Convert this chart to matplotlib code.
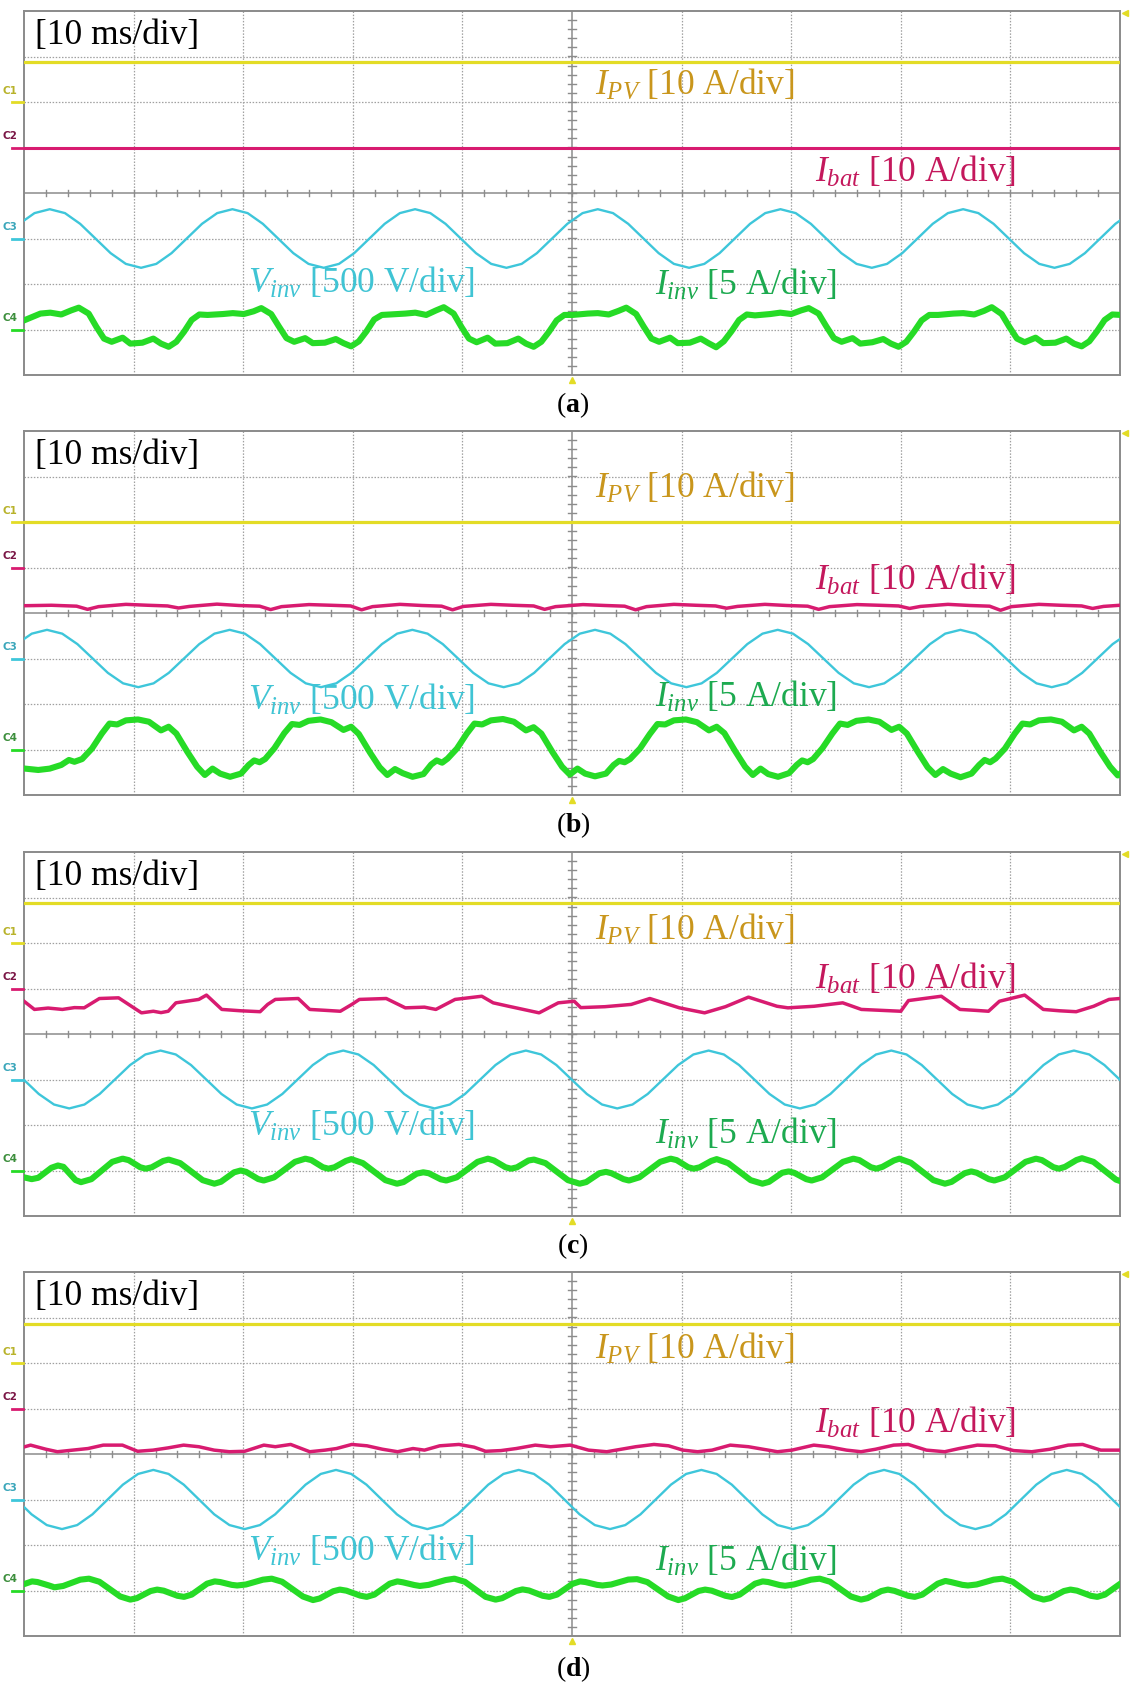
import matplotlib.pyplot as plt
import numpy as np

plt.rcParams['font.family'] = 'Liberation Serif'
plt.rcParams['mathtext.fontset'] = 'custom'
plt.rcParams['mathtext.rm'] = 'Liberation Serif'
plt.rcParams['mathtext.it'] = 'Liberation Serif:italic'
plt.rcParams['mathtext.bf'] = 'Liberation Serif:bold'

# scope: 10 ms/div, 10 x 8 divisions; channel zero level (div) and scale per div
CH_ZERO = {'pv': 2.0, 'bat': 1.0, 'vinv': -1.0, 'iinv': -3.0}
CH_SCALE = {'pv': 10.0, 'bat': 10.0, 'vinv': 500.0, 'iinv': 5.0}

panel_names = ['a', 'b', 'c', 'd']

# I_PV (A), flat in every capture
ipv_level = [8.9, 0.0, 8.7, 8.6]

# V_inv (V), read every 1.389 ms starting at vinv_t0 (ms)
VINV_STEP = 1.389
vinv_t0 = [-0.43, -0.68, -1.43, -2.09]
vinv_a = [161, 279, 322, 279, 161, 0, -161, -279, -322, -279, -161, 0,
          161, 279, 322, 279, 161, 0, -161, -279, -322, -279, -161, 0,
          161, 279, 322, 279, 161, 0, -161, -279, -322, -279, -161, 0,
          161, 279, 322, 279, 161, 0, -161, -279, -322, -279, -161, 0,
          161, 279, 322, 279, 161, 0, -161, -279, -322, -279, -161, 0,
          161, 279, 322, 279, 161, 0, -161, -279, -322, -279, -161, 0,
          161, 279]
vinv_b = [158, 273, 315, 273, 158, 0, -158, -273, -315, -273, -158, 0,
          158, 273, 315, 273, 158, 0, -158, -273, -315, -273, -158, 0,
          158, 273, 315, 273, 158, 0, -158, -273, -315, -273, -158, 0,
          158, 273, 315, 273, 158, 0, -158, -273, -315, -273, -158, 0,
          158, 273, 315, 273, 158, 0, -158, -273, -315, -273, -158, 0,
          158, 273, 315, 273, 158, 0, -158, -273, -315, -273, -158, 0,
          158, 273, 315]
vinv_c = [159, 0, -159, -275, -318, -275, -159, 0, 159, 275, 318, 275,
          159, 0, -159, -275, -318, -275, -159, 0, 159, 275, 318, 275,
          159, 0, -159, -275, -318, -275, -159, 0, 159, 275, 318, 275,
          159, 0, -159, -275, -318, -275, -159, 0, 159, 275, 318, 275,
          159, 0, -159, -275, -318, -275, -159, 0, 159, 275, 318, 275,
          159, 0, -159, -275, -318, -275, -159, 0, 159, 275, 318, 275,
          159, 0, -159]
vinv_d = [163, 0, -163, -281, -325, -281, -163, 0, 163, 281, 325, 281,
          163, 0, -163, -281, -325, -281, -163, 0, 163, 281, 325, 281,
          163, 0, -163, -281, -325, -281, -163, 0, 163, 281, 325, 281,
          163, 0, -163, -281, -325, -281, -163, 0, 163, 281, 325, 281,
          163, 0, -163, -281, -325, -281, -163, 0, 163, 281, 325, 281,
          163, 0, -163, -281, -325, -281, -163, 0, 163, 281, 325, 281,
          163, 0, -163]

# I_inv (A) read points, time in ms
iinv_a_t = [0.0, 1.5, 2.4, 3.4, 4.3, 5.0, 5.9, 6.6, 7.3, 8.0, 9.0, 9.7, 10.8, 11.8, 12.5, 13.2, 13.9, 14.6, 15.3, 16.0,
            16.75, 18.15, 19.05, 20.05, 20.95, 21.65, 22.55, 23.25, 23.95, 24.65, 25.65, 26.35, 27.45, 28.45, 29.15, 29.85, 30.55, 31.25, 31.95, 32.65,
            33.4, 34.8, 35.7, 36.7, 37.6, 38.3, 39.2, 39.9, 40.6, 41.3, 42.3, 43.0, 44.1, 45.1, 45.8, 46.5, 47.2, 47.9, 48.6, 49.3,
            50.05, 51.45, 52.35, 53.35, 54.25, 54.95, 55.85, 56.55, 57.25, 57.95, 58.95, 59.65, 60.75, 61.75, 62.45, 63.15, 63.85, 64.55, 65.25, 65.95,
            66.7, 68.1, 69.0, 70.0, 70.9, 71.6, 72.5, 73.2, 73.9, 74.6, 75.6, 76.3, 77.4, 78.4, 79.1, 79.8, 80.5, 81.2, 81.9, 82.6,
            83.4, 84.8, 85.7, 86.7, 87.6, 88.3, 89.2, 89.9, 90.6, 91.3, 92.3, 93.0, 94.1, 95.1, 95.8, 96.5, 97.2, 97.9, 98.6, 99.3,
            100.1]
iinv_a = [1.0, 1.75, 1.85, 1.65, 2.1, 2.4, 1.75, 0.3, -1.0, -1.35, -0.9, -1.55, -1.45, -1.0, -1.55, -1.9, -1.35, -0.25, 1.05, 1.65,
          1.6, 1.7, 1.8, 1.7, 2.0, 2.35, 1.7, 0.35, -0.95, -1.35, -0.95, -1.5, -1.45, -1.05, -1.5, -1.85, -1.3, -0.2, 1.1, 1.6,
          1.65, 1.75, 1.85, 1.6, 2.1, 2.45, 1.75, 0.3, -1.0, -1.4, -0.9, -1.55, -1.5, -1.0, -1.55, -1.9, -1.35, -0.25, 1.0, 1.6,
          1.6, 1.75, 1.8, 1.65, 2.05, 2.4, 1.7, 0.3, -1.0, -1.35, -0.9, -1.5, -1.45, -1.0, -1.5, -1.95, -1.3, -0.2, 1.05, 1.65,
          1.55, 1.7, 1.85, 1.7, 2.1, 2.35, 1.75, 0.35, -0.95, -1.35, -0.95, -1.55, -1.4, -1.05, -1.55, -1.9, -1.35, -0.25, 1.0, 1.6,
          1.6, 1.75, 1.8, 1.65, 2.05, 2.45, 1.7, 0.3, -1.0, -1.4, -0.9, -1.5, -1.45, -1.0, -1.55, -1.85, -1.3, -0.2, 1.05, 1.65,
          1.6]

iinv_b_t = [0.1, 1.3, 2.35, 3.4, 4.1, 4.6, 5.3,
            6.2, 7.1, 7.8, 8.5, 9.3, 10.4, 11.4, 12.5, 13.2, 13.9, 14.9, 15.8, 16.5, 17.2, 17.9, 18.8, 19.8, 20.5, 21.0, 21.5, 22.0,
            22.85, 23.75, 24.45, 25.15, 25.95, 27.05, 28.05, 29.15, 29.85, 30.55, 31.55, 32.45, 33.15, 33.85, 34.55, 35.45, 36.45, 37.15, 37.65, 38.15, 38.65,
            39.5, 40.4, 41.1, 41.8, 42.6, 43.7, 44.7, 45.8, 46.5, 47.2, 48.2, 49.1, 49.8, 50.5, 51.2, 52.1, 53.1, 53.8, 54.3, 54.8, 55.3,
            56.2, 57.1, 57.8, 58.5, 59.3, 60.4, 61.4, 62.5, 63.2, 63.9, 64.9, 65.8, 66.5, 67.2, 67.9, 68.8, 69.8, 70.5, 71.0, 71.5, 72.0,
            72.85, 73.75, 74.45, 75.15, 75.95, 77.05, 78.05, 79.15, 79.85, 80.55, 81.55, 82.45, 83.15, 83.85, 84.55, 85.45, 86.45, 87.15, 87.65, 88.15, 88.65,
            89.5, 90.4, 91.1, 91.8, 92.6, 93.7, 94.7, 95.8, 96.5, 97.2, 98.2, 99.1, 99.8, 100.5]
iinv_b = [-2.1, -2.25, -2.1, -1.7, -1.15, -1.35, -1.05,
          0.1, 1.75, 2.85, 2.75, 3.2, 3.3, 3.05, 2.1, 2.5, 1.75, -0.25, -1.9, -2.8, -2.1, -2.65, -3.0, -2.65, -1.7, -1.2, -1.4, -1.05,
          0.15, 1.8, 2.8, 2.7, 3.15, 3.3, 3.0, 2.15, 2.5, 1.7, -0.3, -1.95, -2.8, -2.15, -2.6, -3.0, -2.7, -1.65, -1.2, -1.45, -1.0,
          0.1, 1.75, 2.85, 2.75, 3.2, 3.35, 3.05, 2.1, 2.45, 1.75, -0.25, -1.9, -2.75, -2.1, -2.65, -2.95, -2.65, -1.7, -1.25, -1.4, -1.05,
          0.1, 1.7, 2.8, 2.75, 3.2, 3.3, 3.0, 2.1, 2.5, 1.8, -0.2, -1.9, -2.8, -2.1, -2.7, -3.0, -2.6, -1.7, -1.2, -1.4, -1.05,
          0.15, 1.75, 2.85, 2.7, 3.15, 3.3, 3.05, 2.15, 2.5, 1.75, -0.25, -1.95, -2.8, -2.15, -2.65, -3.05, -2.65, -1.7, -1.15, -1.4, -1.0,
          0.1, 1.75, 2.85, 2.75, 3.2, 3.3, 3.05, 2.1, 2.5, 1.75, -0.25, -1.9, -2.85, -2.2]

iinv_c_t = [0.0, 0.7, 1.3, 2.5, 3.1, 3.6, 4.7, 5.2, 6.15, 8.05, 9.0, 9.55, 10.6, 11.1, 11.65, 12.7, 13.2, 14.25, 16.3,
            17.37, 17.97, 19.17, 19.77, 20.27, 21.37, 21.87, 22.82, 24.72, 25.67, 26.22, 27.27, 27.77, 28.32, 29.37, 29.87, 30.92, 32.97,
            34.03, 34.63, 35.83, 36.43, 36.93, 38.03, 38.53, 39.48, 41.38, 42.33, 42.88, 43.93, 44.43, 44.98, 46.03, 46.53, 47.58, 49.63,
            50.7, 51.3, 52.5, 53.1, 53.6, 54.7, 55.2, 56.15, 58.05, 59.0, 59.55, 60.6, 61.1, 61.65, 62.7, 63.2, 64.25, 66.3,
            67.37, 67.97, 69.17, 69.77, 70.27, 71.37, 71.87, 72.82, 74.72, 75.67, 76.22, 77.27, 77.77, 78.32, 79.37, 79.87, 80.92, 82.97,
            84.03, 84.63, 85.83, 86.43, 86.93, 88.03, 88.53, 89.48, 91.38, 92.33, 92.88, 93.93, 94.43, 94.98, 96.03, 96.53, 97.58, 99.63,
            100.7]
iinv_c = [-0.75, -0.95, -0.8, 0.3, 0.55, 0.4, -1.05, -1.28, -0.95, 0.95, 1.3, 1.14, 0.36, 0.2, 0.35, 1.05, 1.2, 0.81, -1.06,
          -1.45, -1.24, -0.2, 0.0, -0.15, -0.94, -1.1, -0.75, 0.95, 1.3, 1.14, 0.36, 0.2, 0.35, 1.05, 1.25, 0.81, -1.06,
          -1.45, -1.27, -0.35, -0.2, -0.3, -0.97, -1.1, -0.75, 0.95, 1.3, 1.1, 0.36, 0.2, 0.35, 1.1, 1.2, 0.81, -1.06,
          -1.45, -1.27, -0.3, -0.15, -0.3, -0.95, -1.1, -0.75, 0.95, 1.3, 1.14, 0.36, 0.2, 0.35, 1.05, 1.25, 0.81, -1.06,
          -1.45, -1.25, -0.25, -0.1, -0.25, -0.95, -1.1, -0.75, 0.95, 1.3, 1.14, 0.36, 0.2, 0.4, 1.1, 1.3, 0.85, -1.06,
          -1.45, -1.25, -0.3, -0.1, -0.25, -0.95, -1.1, -0.75, 0.95, 1.3, 1.14, 0.36, 0.2, 0.4, 1.15, 1.35, 0.95, -1.0,
          -1.45]

iinv_d_t = [0.0, 0.73, 1.23, 2.28, 2.78, 3.58, 5.13, 5.93, 6.88, 8.78,
            9.7, 10.3, 11.55, 12.15, 12.75, 14.0, 14.6, 15.3, 16.7, 17.4, 17.9, 18.95, 19.45, 20.25, 21.8, 22.6, 23.55, 25.45,
            26.37, 26.97, 28.22, 28.82, 29.42, 30.67, 31.27, 31.97, 33.37, 34.07, 34.57, 35.62, 36.12, 36.92, 38.47, 39.27, 40.22, 42.12,
            43.03, 43.63, 44.88, 45.48, 46.08, 47.33, 47.93, 48.63, 50.03, 50.73, 51.23, 52.28, 52.78, 53.58, 55.13, 55.93, 56.88, 58.78,
            59.7, 60.3, 61.55, 62.15, 62.75, 64.0, 64.6, 65.3, 66.7, 67.4, 67.9, 68.95, 69.45, 70.25, 71.8, 72.6, 73.55, 75.45,
            76.37, 76.97, 78.22, 78.82, 79.42, 80.67, 81.27, 81.97, 83.37, 84.07, 84.57, 85.62, 86.12, 86.92, 88.47, 89.27, 90.22, 92.12,
            93.03, 93.63, 94.88, 95.48, 96.08, 97.33, 97.93, 98.63, 100.03, 100.73]
iinv_d = [0.7, 1.0, 0.93, 0.55, 0.35, 0.5, 1.19, 1.3, 0.96, -0.66,
          -1.0, -0.84, -0.06, 0.1, -0.02, -0.58, -0.7, -0.45, 0.75, 1.0, 0.93, 0.62, 0.55, 0.66, 1.19, 1.3, 0.96, -0.66,
          -1.05, -0.88, -0.08, 0.1, -0.02, -0.56, -0.7, -0.45, 0.75, 1.0, 0.9, 0.6, 0.5, 0.62, 1.15, 1.3, 0.96, -0.7,
          -1.0, -0.84, -0.06, 0.12, 0.0, -0.58, -0.7, -0.45, 0.72, 1.0, 0.93, 0.62, 0.55, 0.66, 1.2, 1.25, 0.92, -0.66,
          -1.05, -0.86, -0.05, 0.1, -0.02, -0.58, -0.72, -0.45, 0.75, 1.0, 0.93, 0.6, 0.52, 0.66, 1.19, 1.3, 0.96, -0.66,
          -1.0, -0.84, -0.06, 0.1, -0.04, -0.58, -0.7, -0.45, 0.75, 1.05, 0.93, 0.62, 0.55, 0.66, 1.19, 1.3, 0.96, -0.68,
          -1.0, -0.84, -0.06, 0.1, -0.02, -0.58, -0.7, -0.45, 0.75, 1.0]

# I_bat (A) read points, time in ms
ibat_a_t = [0.0, 100.0]
ibat_a = [0.0, 0.0]

ibat_b_t = [0.0, 2.5, 4.8, 5.8, 6.8, 9.3, 11.3, 13.1, 14.1, 15.1, 17.6, 19.6, 21.5, 22.5, 23.5, 26.0, 28.0,
            29.8, 30.8, 31.8, 34.3, 36.3, 38.1, 39.1, 40.1, 42.6, 44.6, 46.5, 47.5, 48.5, 51.0, 53.0,
            54.8, 55.8, 56.8, 59.3, 61.3, 63.1, 64.1, 65.1, 67.6, 69.6, 71.5, 72.5, 73.5, 76.0, 78.0,
            79.8, 80.8, 81.8, 84.3, 86.3, 88.1, 89.1, 90.1, 92.6, 94.6, 96.5, 97.5, 98.5, 100.0]
ibat_b = [-8.4, -8.3, -8.5, -9.2, -8.6, -8.1, -8.3, -8.45, -8.9, -8.55, -8.05, -8.35, -8.5, -9.25, -8.6, -8.15, -8.3,
          -8.45, -9.3, -8.6, -8.1, -8.35, -8.5, -9.3, -8.55, -8.1, -8.3, -8.45, -9.2, -8.6, -8.15, -8.35,
          -8.5, -9.3, -8.6, -8.1, -8.3, -8.45, -8.95, -8.55, -8.1, -8.35, -8.5, -9.2, -8.6, -8.15, -8.3,
          -8.45, -9.0, -8.55, -8.1, -8.35, -8.5, -9.4, -8.6, -8.1, -8.3, -8.45, -9.0, -8.55, -8.3]

ibat_c_t = [0.0, 0.95, 2.2, 3.5, 4.6, 5.49, 6.88, 8.63, 10.02, 10.72, 11.8, 12.5, 13.16, 13.86, 15.95, 16.65,
            18.05, 19.8, 21.54, 22.23, 22.93, 25.02, 26.07, 27.5, 28.86, 29.91, 30.6, 33.05, 34.79, 36.54, 37.58,
            39.33, 41.77, 42.81, 44.21, 47.0, 48.75, 50.2, 50.8, 53.0, 55.4, 57.1, 59.8, 62.1, 64.0, 66.1,
            68.7, 69.7, 72.1, 74.7, 76.4, 78.2, 80.0, 80.7, 83.7, 85.4, 86.8, 88.0, 89.0, 91.3, 93.0, 94.5,
            96.0, 97.6, 99.0, 100.0]
ibat_c = [-2.8, -4.6, -4.3, -4.6, -4.2, -4.25, -2.2, -2.05, -4.25, -5.35, -5.0, -5.3, -5.0, -3.15, -2.4, -1.45,
          -4.6, -4.9, -5.1, -3.5, -2.4, -2.2, -4.6, -4.8, -5.0, -3.5, -2.4, -2.2, -4.25, -4.1, -4.6,
          -2.4, -1.7, -3.15, -3.9, -5.35, -3.15, -2.8, -4.2, -4.0, -3.5, -2.2, -4.25, -5.35, -4.0, -1.9,
          -3.9, -4.25, -3.9, -3.15, -4.6, -4.8, -5.0, -2.65, -1.7, -4.6, -4.8, -5.0, -2.8, -1.45, -4.6, -4.9,
          -5.1, -3.9, -2.4, -2.2]

ibat_d_t = [0.08, 0.6, 2.0, 3.05, 4.44, 5.84, 7.23, 8.98, 10.37, 11.77, 13.16, 14.56, 15.95, 17.35, 18.74, 20.14,
            21.88, 22.93, 24.33, 26.07, 27.47, 28.51, 29.91, 31.3, 32.7, 34.09, 35.49, 36.54, 37.93, 39.68, 41.07,
            42.12, 43.51, 44.91, 46.65, 48.05, 49.85, 51.51, 53.17, 54.5, 55.82, 57.48, 58.81, 60.13, 61.46, 62.78,
            64.44, 66.1, 67.42, 68.75, 70.07, 72.06, 73.39, 75.05, 76.37, 77.7, 79.35, 80.68, 82.34, 84.0, 85.32,
            86.98, 88.64, 90.3, 91.95, 93.61, 95.27, 96.59, 98.25, 99.91]
ibat_d = [-8.4, -8.05, -8.95, -9.5, -9.15, -8.8, -8.05, -8.05, -9.4, -9.15, -8.65, -8.05, -8.4, -9.15, -9.5, -9.4,
          -8.05, -8.4, -7.9, -9.5, -9.15, -8.8, -7.9, -8.2, -8.95, -9.5, -8.8, -9.15, -8.2, -7.9, -8.5,
          -9.4, -9.25, -8.8, -8.05, -8.4, -8.05, -9.15, -9.5, -8.95, -8.4, -7.9, -8.2, -9.15, -9.5, -9.15,
          -8.05, -8.4, -8.95, -9.5, -9.15, -8.05, -8.4, -9.15, -9.5, -8.95, -8.05, -7.9, -9.15, -9.5, -8.8,
          -8.05, -8.2, -9.25, -9.5, -8.95, -8.05, -7.9, -9.15, -9.15]

vinv_all = [vinv_a, vinv_b, vinv_c, vinv_d]
iinv_all = [(iinv_a_t, iinv_a), (iinv_b_t, iinv_b), (iinv_c_t, iinv_c), (iinv_d_t, iinv_d)]
ibat_all = [(ibat_a_t, ibat_a), (ibat_b_t, ibat_b), (ibat_c_t, ibat_c), (ibat_d_t, ibat_d)]

# label baselines (div) per panel
label_y = {'pv': [2.15, 2.52, 2.06, 2.08], 'bat': [0.25, 0.5, 1.0, 0.47],
           'vinv': [-2.2, -2.14, -2.23, -2.35], 'iinv': [-2.24, -2.07, -2.41, -2.57]}

trace_col = {'pv': '#E3DC26', 'bat': '#D81B70', 'vinv': '#3EC6DA', 'iinv': '#26DB26'}
text_col = {'pv': '#C9961C', 'bat': '#C4185C', 'vinv': '#40C4D4', 'iinv': '#1DAA50'}
mark_col = {'pv': '#B8B22A', 'bat': '#7A1545', 'vinv': '#3AA6BA', 'iinv': '#3C8E3C'}


def to_div(v, ch):
    return CH_ZERO[ch] + np.asarray(v, dtype=float) / CH_SCALE[ch]


W, H = 1130, 1682
fig = plt.figure(figsize=(W / 100, H / 100), dpi=100)
panel_top = [11, 431, 852, 1272]
panel_h = 364
panel_left, panel_w = 24, 1096
caption_y = [405, 825, 1246, 1669]
LABEL_FS = 25.5

for k, name in enumerate(panel_names):
    ax = fig.add_axes([panel_left / W, 1 - (panel_top[k] + panel_h) / H, panel_w / W, panel_h / H])
    ax.set_xlim(0, 100)
    ax.set_ylim(-4, 4)
    ax.set_xticks([])
    ax.set_yticks([])
    for s in ax.spines.values():
        s.set_color('#8a8a8a')
        s.set_linewidth(1.4)

    # graticule
    for i in range(1, 10):
        if i != 5:
            ax.axvline(i * 10, color='#a0a0a0', lw=0.9, ls=(0, (1.2, 1.3)), zorder=1)
    for j in range(-3, 4):
        if j != 0:
            ax.axhline(j, color='#a0a0a0', lw=0.9, ls=(0, (1.2, 1.3)), zorder=1)
    ax.axvline(50, color='#8c8c8c', lw=1.1, zorder=1)
    ax.axhline(0, color='#8c8c8c', lw=1.1, zorder=1)
    for x in np.arange(2, 100, 2):
        ax.plot([x, x], [-0.075, 0.075], color='#8c8c8c', lw=1.0, zorder=1)
    for y in np.arange(-3.8, 4, 0.2):
        ax.plot([49.68, 50.32], [y, y], color='#8c8c8c', lw=1.0, zorder=1)

    # traces
    ax.plot([0, 100], to_div([ipv_level[k]] * 2, 'pv'), color=trace_col['pv'], lw=2.3, zorder=3)
    bt, bv = ibat_all[k]
    ax.plot(bt, to_div(bv, 'bat'), color=trace_col['bat'], lw=2.2 if k == 0 else 2.5, zorder=3)
    vv = vinv_all[k]
    vt = vinv_t0[k] + VINV_STEP * np.arange(len(vv))
    ax.plot(vt, to_div(vv, 'vinv'), color=trace_col['vinv'], lw=1.7, zorder=3)
    gt, gv = iinv_all[k]
    ax.plot(gt, to_div(gv, 'iinv'), color=trace_col['iinv'], lw=4.4, zorder=3,
            solid_joinstyle='round')

    # channel markers at left edge
    for ch, lab in zip(['pv', 'bat', 'vinv', 'iinv'], ['C1', 'C2', 'C3', 'C4']):
        z = CH_ZERO[ch]
        ax.plot([-1.05, -0.12], [z, z], color=trace_col[ch], lw=2.0, clip_on=False, zorder=4)
        ax.text(-1.3, z + 0.25, lab, color=mark_col[ch], fontsize=7.5, fontweight='bold',
                family='DejaVu Sans', ha='center', va='center', clip_on=False)

    # trigger markers
    ax.plot(50, -4.1, marker='^', ms=5, color='#E3DC26', clip_on=False, zorder=4)
    ax.plot(100.45, 3.95, marker='<', ms=4, color='#E3DC26', clip_on=False, zorder=4)

    # texts
    ax.text(1.0, 3.47, '[10 ms/div]', fontsize=LABEL_FS, color='black', ha='left', va='center', zorder=5)
    ax.text(52.1, label_y['pv'][k], r'$I_{PV}$ [10 A/div]', fontsize=LABEL_FS, color=text_col['pv'],
            ha='left', va='baseline', zorder=5)
    ax.text(72.2, label_y['bat'][k], r'$I_{bat}$ [10 A/div]', fontsize=LABEL_FS, color=text_col['bat'],
            ha='left', va='baseline', zorder=5)
    ax.text(20.4, label_y['vinv'][k], r'$V_{inv}$ [500 V/div]', fontsize=LABEL_FS, color=text_col['vinv'],
            ha='left', va='baseline', zorder=5)
    ax.text(57.6, label_y['iinv'][k], r'$I_{inv}$ [5 A/div]', fontsize=LABEL_FS, color=text_col['iinv'],
            ha='left', va='baseline', zorder=5)

    fig.text(573 / W, 1 - caption_y[k] / H, r'($\mathbf{' + name + '}$)', fontsize=20,
             ha='center', va='center')

fig.savefig('out.png', dpi=100)
